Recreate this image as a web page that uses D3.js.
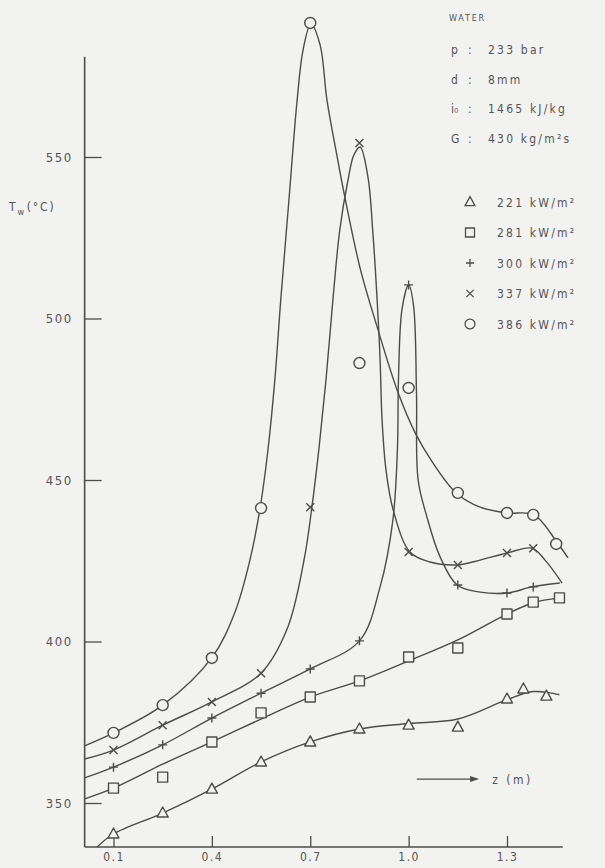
<!DOCTYPE html>
<html>
<head>
<meta charset="utf-8">
<script src="https://cdn.jsdelivr.net/npm/d3@7"></script>
<style>
  body { margin: 0; background: #f2f2f0; }
  svg { display: block; }
  text { font-family: "DejaVu Sans Condensed", "DejaVu Sans", sans-serif; fill: #555; }
</style>
</head>
<body>
<div id="chart"></div>
<script>
const canvas = { w: 605, h: 868 };

// axis ticks
const zTicks = [0.1, 0.4, 0.7, 1.0, 1.3];
const tTicks = [350, 400, 450, 500, 550];

// test conditions (top right)
const condTitle = "WATER";
const condNames = ["p", "d", "i₀", "G"];
const condValues = ["233 bar", "8mm", "1465 kJ/kg", "430 kg/m²s"];

// heat flux series
const fluxLabels = ["221 kW/m²", "281 kW/m²", "300 kW/m²", "337 kW/m²", "386 kW/m²"];
const fluxSymbols = ["triangle", "square", "plus", "cross", "circle"];

// measured points [z (m), Tw (°C)]
const pts221 = [[0.1, 340.4], [0.25, 346.9], [0.4, 354.3], [0.55, 362.7], [0.7, 368.9], [0.85, 372.9],
  [1.0, 374.1], [1.15, 373.5], [1.3, 382.2], [1.35, 385.3], [1.42, 383.1]];
const pts281 = [[0.1, 354.6], [0.25, 358], [0.4, 368.9], [0.55, 377.9], [0.7, 382.8], [0.85, 387.8],
  [1.0, 395.2], [1.15, 398], [1.3, 408.5], [1.38, 412.2], [1.46, 413.5]];
const pts300 = [[0.1, 361.1], [0.25, 368], [0.4, 376.3], [0.55, 384], [0.7, 391.5], [0.85, 400.2],
  [1.0, 510.4], [1.15, 417.5], [1.3, 415], [1.38, 416.9]];
const pts337 = [[0.1, 366.4], [0.25, 374.1], [0.4, 381.3], [0.55, 390.2], [0.7, 441.6], [0.85, 554.3],
  [1.0, 427.7], [1.15, 423.7], [1.3, 427.4], [1.38, 428.9]];
const pts386 = [[0.1, 371.7], [0.25, 380.3], [0.4, 394.9], [0.55, 441.3], [0.7, 591.5], [0.85, 486.2],
  [1.0, 478.5], [1.15, 446], [1.3, 439.8], [1.38, 439.2], [1.45, 430.2]];

// hand-drawn curves through the points [z, Tw]
const curve221 = [[0.05, 336.4], [0.1, 340.4], [0.25, 346.9], [0.4, 354.3], [0.55, 362.7], [0.7, 368.9],
  [0.85, 372.9], [1.0, 374.6], [1.15, 376], [1.3, 382], [1.38, 384.5], [1.46, 383.5]];
const curve281 = [[0.01, 351.2], [0.1, 354.6], [0.25, 362], [0.4, 368.9], [0.55, 376], [0.7, 382.8],
  [0.85, 387.8], [1.0, 394], [1.15, 400.5], [1.3, 408.5], [1.38, 412], [1.46, 413.5]];
const curve300 = [[0.01, 357.7], [0.1, 361.1], [0.25, 368], [0.4, 376.3], [0.55, 384], [0.7, 391.5],
  [0.85, 400.2], [0.913, 416.9], [0.952, 437.6], [0.966, 460], [0.969, 481], [0.98, 503], [1.0, 510.4],
  [1.015, 504], [1.024, 477], [1.029, 450], [1.056, 438.5], [1.096, 426.2], [1.148, 417.5],
  [1.218, 415.3], [1.3, 415], [1.376, 416.9], [1.461, 418.1]];
const curve337 = [[0.01, 363.6], [0.1, 366.4], [0.25, 374.1], [0.4, 381.3], [0.55, 390.2], [0.63, 404],
  [0.681, 425.2], [0.705, 441.6], [0.727, 460.2], [0.748, 481], [0.769, 505.7], [0.79, 527.4],
  [0.815, 542.8], [0.833, 550.6], [0.852, 553.1], [0.876, 543.8], [0.891, 526.5], [0.904, 505.7],
  [0.913, 487.2], [0.919, 468.6], [0.931, 453.1], [0.953, 440.7], [1.004, 427.7], [1.065, 424.6],
  [1.147, 423.7], [1.218, 425.2], [1.3, 427.4], [1.376, 428.9], [1.416, 425.2], [1.468, 418.1]];
const curve386 = [[0.01, 367.6], [0.1, 371.7], [0.25, 380.3], [0.4, 395], [0.47, 409], [0.516, 425.2],
  [0.547, 441.3], [0.571, 459.3], [0.592, 481], [0.61, 505.7], [0.635, 536.7], [0.66, 567.6],
  [0.678, 583.1], [0.702, 591.2], [0.73, 584.7], [0.751, 567.6], [0.784, 549], [0.8, 540.4],
  [0.852, 515.6], [0.904, 497.4], [0.968, 477], [1.02, 464.6], [1.074, 455.3], [1.145, 446],
  [1.218, 441.6], [1.3, 439.8], [1.382, 439.2], [1.456, 430.2], [1.486, 425.9]];

const seriesPts = [pts221, pts281, pts300, pts337, pts386];
const seriesCurves = [curve221, curve281, curve300, curve337, curve386];

const ink = "#4c4c4c";
const paper = "#f2f2f0";

const x = d3.scaleLinear().domain([0.1, 1.3]).range([113.5, 507]);
const y = d3.scaleLinear().domain([350, 550]).range([803, 157]);

const svg = d3.select("#chart")
  .append("svg")
  .attr("width", canvas.w)
  .attr("height", canvas.h)
  .attr("viewBox", `0 0 ${canvas.w} ${canvas.h}`);

svg.append("rect").attr("width", canvas.w).attr("height", canvas.h).attr("fill", paper);

// axes
const xAxis = svg.append("g")
  .attr("transform", `translate(0,${y(336.4)})`)
  .call(d3.axisBottom(x).tickValues(zTicks).tickFormat(d3.format(".1f"))
    .tickSizeInner(-11).tickSizeOuter(0).tickPadding(6));
xAxis.select(".domain").remove();
xAxis.append("line")
  .attr("x1", x(0.012)).attr("x2", x(1.47))
  .attr("stroke", ink).attr("stroke-width", 1.6);

const yAxis = svg.append("g")
  .attr("transform", `translate(${x(0.012)},0)`)
  .call(d3.axisLeft(y).tickValues(tTicks).tickFormat(d3.format("d"))
    .tickSizeInner(-17).tickSizeOuter(0).tickPadding(12));
yAxis.select(".domain").remove();
yAxis.append("line")
  .attr("y1", y(336.4)).attr("y2", y(581))
  .attr("stroke", ink).attr("stroke-width", 1.6);

svg.selectAll(".tick line").attr("stroke", ink).attr("stroke-width", 1.3);
yAxis.selectAll(".tick text")
  .attr("font-size", 13)
  .attr("letter-spacing", 1.5)
  .attr("fill", "#555");
xAxis.selectAll(".tick text")
  .attr("font-size", 12)
  .attr("letter-spacing", 1.5)
  .attr("fill", "#555");

// y axis title
const yTitle = svg.append("text")
  .attr("x", 9).attr("y", 211)
  .attr("font-size", 12).attr("letter-spacing", 1.8);
yTitle.append("tspan").text("T");
yTitle.append("tspan").attr("dy", 4).attr("font-size", 9).text("w");
yTitle.append("tspan").attr("dy", -4).attr("dx", 1).text("(°C)");

// x axis title with arrow
svg.append("line")
  .attr("x1", x(1.025)).attr("x2", x(1.19))
  .attr("y1", y(357.4)).attr("y2", y(357.4))
  .attr("stroke", ink).attr("stroke-width", 1.4);
svg.append("path")
  .attr("d", `M${x(1.215)},${y(357.4)} l-9,-3 l0,6 Z`)
  .attr("fill", ink);
svg.append("text")
  .attr("x", x(1.255)).attr("y", y(357.4) + 4.5)
  .attr("font-size", 12).attr("letter-spacing", 2.5)
  .text("z (m)");

// curves
const line = d3.line()
  .x(d => x(d[0]))
  .y(d => y(d[1]))
  .curve(d3.curveCatmullRom.alpha(0.5));

svg.append("g")
  .selectAll("path")
  .data(seriesCurves)
  .enter()
  .append("path")
  .attr("d", line)
  .attr("fill", "none")
  .attr("stroke", ink)
  .attr("stroke-width", 1.4)
  .attr("stroke-linejoin", "round");

// marker shapes
const markerPath = {
  triangle: "M0,-6L5.5,4L-5.5,4Z",
  square: "M-5,-5H5V5H-5Z",
  plus: "M-4.5,0H4.5M0,-4.5V4.5",
  cross: "M-4,-4L4,4M4,-4L-4,4",
  circle: "M5.5,0A5.5,5.5 0 1,1 -5.5,0A5.5,5.5 0 1,1 5.5,0Z"
};

const markers = svg.append("g")
  .selectAll("g")
  .data(seriesPts)
  .enter()
  .append("g");

markers.selectAll("path")
  .data((d, i) => d.map(p => ({ p, sym: fluxSymbols[i] })))
  .enter()
  .append("path")
  .attr("transform", d => `translate(${x(d.p[0])},${y(d.p[1])})`)
  .attr("d", d => markerPath[d.sym])
  .attr("fill", d => (d.sym === "plus" || d.sym === "cross") ? "none" : paper)
  .attr("stroke", ink)
  .attr("stroke-width", 1.4)
  .attr("stroke-linejoin", "round");

// conditions block
svg.append("text")
  .attr("x", 449).attr("y", 21)
  .attr("font-size", 9).attr("letter-spacing", 1.8)
  .text(condTitle);

const cond = svg.append("g")
  .selectAll("g")
  .data(condNames)
  .enter()
  .append("g")
  .attr("transform", (d, i) => `translate(0,${54 + i * 29.5})`);
cond.append("text").attr("x", 451).attr("font-size", 12).text(d => d);
cond.append("text").attr("x", 468).attr("font-size", 12).text(":");
cond.append("text")
  .attr("x", 488).attr("font-size", 12).attr("letter-spacing", 2.2)
  .text((d, i) => condValues[i]);

// legend
const legend = svg.append("g")
  .selectAll("g")
  .data(fluxLabels)
  .enter()
  .append("g")
  .attr("transform", (d, i) => `translate(470,${202 + i * 30.5})`);
legend.append("path")
  .attr("d", (d, i) => markerPath[fluxSymbols[i]])
  .attr("transform", "scale(0.9)")
  .attr("fill", "none")
  .attr("stroke", ink)
  .attr("stroke-width", 1.4);
legend.append("text")
  .attr("x", 27).attr("y", 4.5)
  .attr("font-size", 12).attr("letter-spacing", 2.2)
  .text(d => d);
</script>
</body>
</html>
